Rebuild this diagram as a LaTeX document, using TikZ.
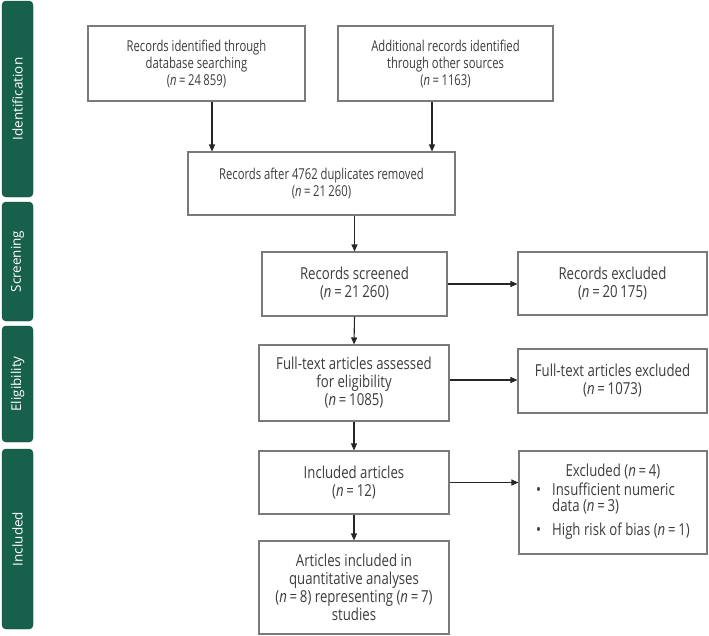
\documentclass[tikz,border=0pt]{standalone}
\usepackage{fontspec}
\setmainfont{Open Sans}[FakeStretch=0.75]
\newfontfamily\lowfont{Open Sans}[FakeStretch=0.8]
\newfontfamily\stagefont{Open Sans}
\usepackage{tikz}
\usetikzlibrary{arrows.meta, calc}

\definecolor{stagegreen}{HTML}{17614C}
\definecolor{boxgrey}{HTML}{7A7A7A}
\definecolor{txtgrey}{HTML}{3C3C3C}

\newcommand{\nn}{\textit{n}\,=\,}

\begin{document}
\begin{tikzpicture}[x=1pt, y=-1pt,
        box/.style={draw=boxgrey, line width=1.1pt, text=txtgrey, align=center,
            inner sep=2pt, font=\fontsize{15}{17}\selectfont},
        bigbox/.style={box, font=\lowfont\fontsize{16.5}{18}\selectfont},
        stage/.style={fill=stagegreen, draw=stagegreen!70!black, rounded corners=4pt,
            minimum width=31pt},
        stagetext/.style={rotate=90, text=white, font=\stagefont\fontsize{13.5}{15}\selectfont},
        arr/.style={-{Triangle[length=7pt, width=6pt]}, line width=1.1pt, draw=black!85}]
        \useasboundingbox (0,0) rectangle (709,635);

        % stage bars
        \node[stage, minimum height=196pt] (idt) at (17.5,99) {};
        \node[stage, minimum height=119pt] (scr) at (17.5,261.5) {};
        \node[stage, minimum height=116pt] (elg) at (17.5,384) {};
        \node[stage, minimum height=180pt] (inc) at (17.5,539) {};
        \node[stagetext] at (idt) {Identification};
        \node[stagetext] at (scr) {Screening};
        \node[stagetext] at (elg) {Eligibility};
        \node[stagetext] at (inc) {Included};

        % boxes
        \node[box, minimum width=217pt, minimum height=75pt] (dbase) at (196.5,63.5)
            {Records identified through\\database searching\\(\nn 24\,859)};
        \node[box, minimum width=215pt, minimum height=75pt] (other) at (445.5,63.5)
            {Additional records identified\\through other sources\\(\nn 1163)};
        \node[box, minimum width=267pt, minimum height=63pt] (dupl) at (321.5,183.5)
            {Records after 4762 duplicates removed\\(\nn 21\,260)};
        \node[bigbox, minimum width=185pt, minimum height=64pt] (scrn) at (354.5,284)
            {Records screened\\(\nn 21\,260)};
        \node[bigbox, minimum width=189pt, minimum height=63pt] (recex) at (612.5,283.5)
            {Records excluded\\(\nn 20\,175)};
        \node[bigbox, minimum width=190pt, minimum height=76pt] (ftass) at (354,383)
            {Full-text articles assessed\\for eligibility\\(\nn 1085)};
        \node[bigbox, minimum width=189pt, minimum height=64pt] (ftex) at (612.5,381)
            {Full-text articles excluded\\(\nn 1073)};
        \node[bigbox, minimum width=190pt, minimum height=63pt] (incart) at (354,482.5)
            {Included articles\\(\nn 12)};
        \node[bigbox, minimum width=188pt, minimum height=103pt] (excl) at (613,502.5)
            {Excluded (\nn 4)\\[2pt]
            \begin{tabular}{@{}l@{\hspace{11pt}}l@{}}
            \textbullet & Insufficient numeric\\[-2pt]
                        & data (\nn 3)\\[6pt]
            \textbullet & High risk of bias (\nn 1)
            \end{tabular}};
        \node[bigbox, minimum width=190pt, minimum height=93pt] (quant) at (354,587.5)
            {Articles included in\\quantitative analyses\\(\nn 8) representing (\nn 7)\\studies};

        % arrows
        \draw[arr] ([xshift=15.5pt]dbase.south) -- ([xshift=15.5pt]dbase.south |- dupl.north);
        \draw[arr] ([xshift=-13.5pt]other.south) -- ([xshift=-13.5pt]other.south |- dupl.north);
        \draw[arr] (dupl.south -| scrn.north) -- (scrn.north);
        \draw[arr] (scrn.south) -- (ftass.north);
        \draw[arr] (ftass.south) -- (incart.north);
        \draw[arr] (incart.south) -- (quant.north);
        \draw[arr] (scrn.east) -- (scrn.east -| recex.west);
        \draw[arr] ([yshift=3pt]ftass.east) -- ([yshift=3pt]ftass.east -| ftex.west);
        \draw[arr] (incart.east) -- (incart.east -| excl.west);
    \end{tikzpicture}
\end{document}
